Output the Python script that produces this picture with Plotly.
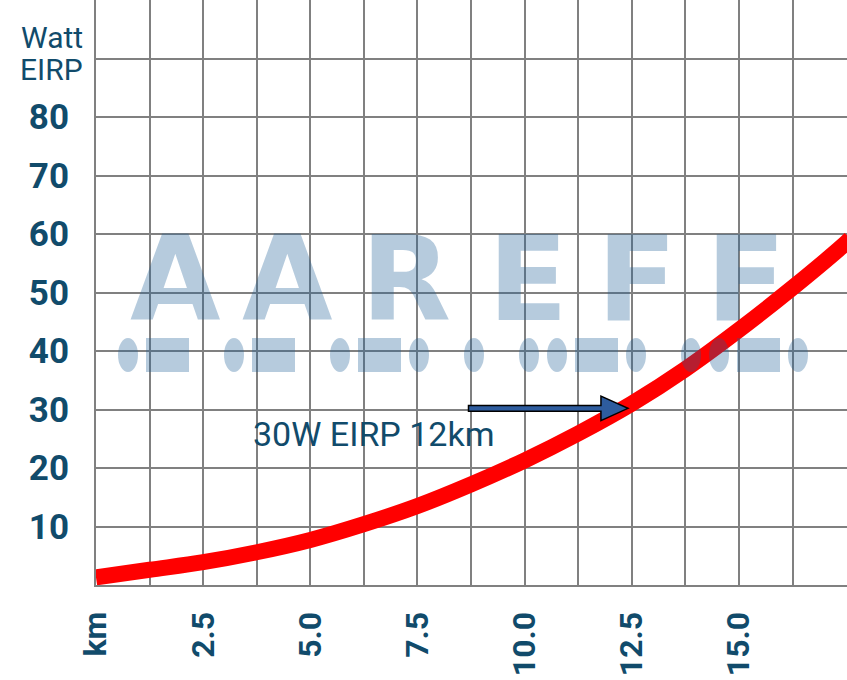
import plotly.graph_objects as go

# ---- data ----
distance_km = [0, 1.25, 2.5, 3.75, 5, 6.25, 7.5, 8.75, 10, 11.25, 12.5, 13.75, 15, 16.25, 17.5, 17.6]
power_w = [1.3, 2.6, 3.9, 5.6, 7.7, 10.4, 13.5, 17.2, 21.3, 25.9, 31.0, 36.9, 43.6, 50.8, 58.5, 59.2]

x_grid = [i * 1.25 for i in range(15)]
x_ticktext = ["km", "", "2.5", "", "5.0", "", "7.5", "", "10.0", "", "12.5", "", "15.0", "", ""]
y_grid = [i * 10 for i in range(11)]
y_ticktext = ["", "10", "20", "30", "40", "50", "60", "70", "80", "", ""]

annotation_text = "30W EIRP 12km"
annotation_pos = (3.62, 25.8)
arrow_start_km = 8.69
arrow_tip_km = 12.41
arrow_y_w = 30.2

watermark = "AAREFF"
watermark_letter_px = [175, 287, 406, 528, 637, 746]

TEXT = "#114b6b"
GRID = "#808080"
WM = "rgba(27,94,150,0.32)"

W, H = 847, 680
L, B = 96, 95
PW, PH = W - L, H - B


def px_x(px):
    return (px - L) / PW


def px_y(py):
    return (PH - py) / PH


fig = go.Figure()
fig.add_trace(go.Scatter(
    x=distance_km, y=power_w, mode="lines",
    line=dict(color="#ff0000", width=16, shape="spline"),
    hoverinfo="skip", showlegend=False,
))

shapes = []
# arrow (blue with black outline)
hl, hh, sh = 0.63, 2.1, 0.5
xt, x0, y = arrow_tip_km, arrow_start_km, arrow_y_w
path = (f"M {x0},{y-sh} L {xt-hl},{y-sh} L {xt-hl},{y-hh} L {xt},{y} "
        f"L {xt-hl},{y+hh} L {xt-hl},{y+sh} L {x0},{y+sh} Z")
shapes.append(dict(type="path", path=path, xref="x", yref="y",
                   fillcolor="#2e5c9e", line=dict(color="black", width=1.5),
                   layer="above"))

# watermark morse row
morse = {"A": ".-", "R": ".-.", "E": ".", "F": "..-."}
pos = 118
dot_w, dash_w, gap, letter_gap = 20, 43, 8, 35
top_px, bot_px = 338, 372
for li, ch in enumerate(watermark):
    for si, sym in enumerate(morse[ch]):
        w = dot_w if sym == "." else dash_w
        shapes.append(dict(
            type="circle" if sym == "." else "rect",
            xref="paper", yref="paper",
            x0=px_x(pos), x1=px_x(pos + w), y0=px_y(bot_px), y1=px_y(top_px),
            fillcolor=WM, line=dict(width=0), layer="above"))
        pos += w + gap
    pos += letter_gap - gap

annotations = []
for ch, cx in zip(watermark, watermark_letter_px):
    annotations.append(dict(
        text=ch, xref="paper", yref="paper", x=px_x(cx), y=px_y(279),
        xanchor="center", yanchor="middle", showarrow=False,
        font=dict(family="DejaVu Sans", size=117, color=WM, weight="bold")))

annotations.append(dict(
    text=annotation_text, x=annotation_pos[0], y=annotation_pos[1],
    xref="x", yref="y", xanchor="left", yanchor="middle", showarrow=False,
    font=dict(family="Roboto", size=34, color=TEXT)))

for txt, cy in [("Watt", 38), ("EIRP", 69)]:
    annotations.append(dict(
        text=txt, xref="paper", yref="paper", x=0, xshift=-11, y=px_y(cy),
        xanchor="right", yanchor="middle", showarrow=False,
        font=dict(family="Roboto", size=30, color=TEXT)))

fig.update_layout(
    width=W, height=H,
    margin=dict(l=L, r=0, t=0, b=B, pad=0, autoexpand=False),
    paper_bgcolor="white", plot_bgcolor="white",
    showlegend=False,
    shapes=shapes, annotations=annotations,
    xaxis=dict(
        range=[0, 17.52], tickmode="array", tickvals=x_grid, ticktext=x_ticktext,
        tickangle=-90, showgrid=True, gridcolor=GRID, gridwidth=2,
        zeroline=False, showline=True, linecolor=GRID, linewidth=2,
        ticks="", ticklabelstandoff=12, automargin=False,
        tickfont=dict(family="Roboto", size=32, color=TEXT, weight="bold"),
        fixedrange=True,
    ),
    yaxis=dict(
        range=[0, 100], tickmode="array", tickvals=y_grid, ticktext=y_ticktext,
        showgrid=True, gridcolor=GRID, gridwidth=2,
        zeroline=False, showline=True, linecolor=GRID, linewidth=2,
        ticks="", ticklabelstandoff=18, automargin=False,
        tickfont=dict(family="Roboto", size=35, color=TEXT, weight="bold"),
        fixedrange=True,
    ),
)

fig.write_html(
    "out.html",
    config={"displayModeBar": False},
    post_script="document.body.style.margin='0';document.body.style.overflow='hidden';",
)
